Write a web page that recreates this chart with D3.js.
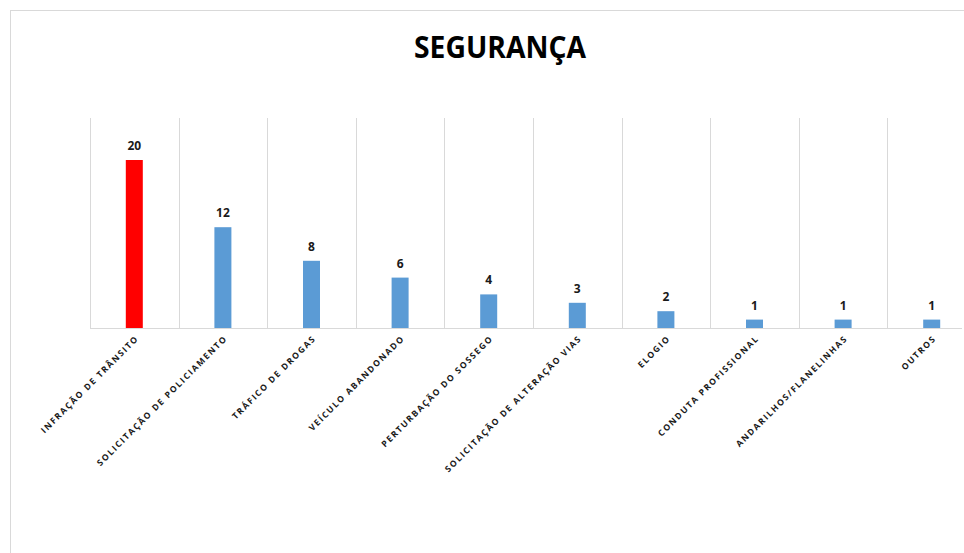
<!DOCTYPE html>
<html><head><meta charset="utf-8">
<script src="https://cdn.jsdelivr.net/npm/d3@7"></script>
<style>body{margin:0;background:#fff}svg{display:block}</style>
</head><body>
<script>
const categories = ["INFRAÇÃO DE TRÂNSITO","SOLICITAÇÃO DE POLICIAMENTO","TRÁFICO DE DROGAS","VEÍCULO ABANDONADO","PERTURBAÇÃO DO SOSSEGO","SOLICITAÇÃO DE ALTERAÇÃO VIAS","ELOGIO","CONDUTA PROFISSIONAL","ANDARILHOS/FLANELINHAS","OUTROS"];
const values = [20,12,8,6,4,3,2,1,1,1];
const barColors = ["#ff0000","#5b9bd5","#5b9bd5","#5b9bd5","#5b9bd5","#5b9bd5","#5b9bd5","#5b9bd5","#5b9bd5","#5b9bd5"];
const chartTitle = "SEGURANÇA";

(function () {
const W = 964, H = 553;
const svg = d3.select("body").append("svg").attr("width", W).attr("height", H);

// chart border
svg.append("rect").attr("x", 10.5).attr("y", 10.5).attr("width", 1000).attr("height", 1000)
  .attr("fill", "#fff").attr("stroke", "#d9d9d9");

const mLeft = 90, plotW = 886, mTop = 118, mBottom = 328;
const x = d3.scaleBand().domain(categories).range([mLeft, mLeft + plotW]);
const y = d3.scaleLinear().domain([0, 25]).range([mBottom, mTop]);

svg.append("text").attr("x", 500).attr("y", 58).attr("text-anchor", "middle")
  .attr("font-family", "'Open Sans', sans-serif").attr("font-weight", 700)
  .attr("font-size", 30).attr("textLength", 172).attr("lengthAdjust", "spacingAndGlyphs")
  .text(chartTitle);

// vertical gridlines (category separators)
svg.append("g").selectAll("line").data(categories).join("line")
  .attr("x1", d => Math.round(x(d)) + 0.5).attr("x2", d => Math.round(x(d)) + 0.5)
  .attr("y1", y(25)).attr("y2", mBottom)
  .attr("stroke", "#d9d9d9").attr("stroke-width", 1);

// baseline
svg.append("line").attr("x1", mLeft).attr("x2", 962).attr("y1", mBottom + 0.5).attr("y2", mBottom + 0.5)
  .attr("stroke", "#d9d9d9").attr("stroke-width", 1);

const bw = 17;
svg.append("g").selectAll("rect").data(values).join("rect")
  .attr("x", (d, i) => x(categories[i]) + x.bandwidth() / 2 - bw / 2)
  .attr("y", d => y(d)).attr("width", bw).attr("height", d => mBottom - y(d))
  .attr("fill", (d, i) => barColors[i]);

svg.append("g").selectAll("text").data(values).join("text")
  .attr("x", (d, i) => x(categories[i]) + x.bandwidth() / 2)
  .attr("y", d => y(d) - 10).attr("text-anchor", "middle")
  .attr("font-family", "'Open Sans', sans-serif").attr("font-weight", 700)
  .attr("font-size", 12).attr("fill", "#1a1a1a").text(d => d);

// category labels rotated
svg.append("g").selectAll("text").data(categories).join("text")
  .attr("transform", d => `translate(${x(d) + x.bandwidth() / 2 + 5},${mBottom + 11}) rotate(-45)`)
  .attr("text-anchor", "end")
  .attr("font-family", "'Open Sans', sans-serif").attr("font-weight", 700)
  .attr("font-size", 8.6).attr("letter-spacing", 1.55).attr("fill", "#1a1a1a")
  .text(d => d);
})();
</script>
</body></html>
